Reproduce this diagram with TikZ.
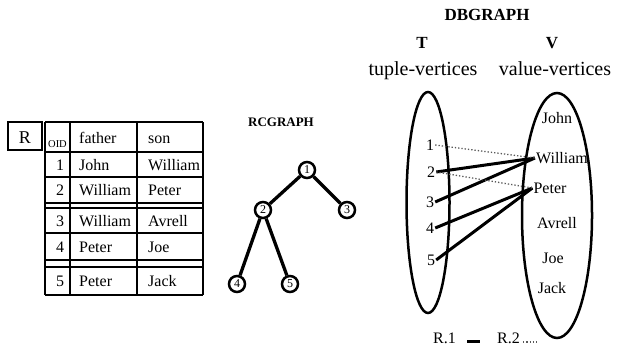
\documentclass[tikz,border=0pt]{standalone}
\usepackage{fontspec}
\setmainfont{Liberation Serif}
\begin{document}
\begin{tikzpicture}[x=1pt,y=-1pt,
  tline/.style={line width=1.8pt},
  txt/.style={inner sep=0pt, anchor=base west, font=\fontsize{16}{16}\selectfont},
  oidnum/.style={inner sep=0pt, anchor=base, font=\fontsize{16}{16}\selectfont},
  title/.style={inner sep=0pt, font=\fontsize{13}{13}\selectfont\bfseries},
  tnode/.style={circle, draw, line width=2.5pt, minimum size=16pt, inner sep=0pt,
                font=\fontsize{12}{12}\selectfont},
  tedge/.style={line width=3.3pt},
  oval/.style={draw, line width=2.5pt},
  tnum/.style={inner sep=1pt, font=\fontsize{16}{16}\selectfont},
  val/.style={inner sep=1pt, font=\fontsize{16}{16}\selectfont},
  rone/.style={line width=3pt},
  rtwo/.style={line width=1.3pt, gray!70!black, dotted}]
\useasboundingbox (0,0) rectangle (617,350);

% ---------- relation R ----------
\draw[tline] (8,122) rectangle (42,150);
\node[inner sep=0pt, anchor=base, font=\fontsize{18}{18}\selectfont] (rname) at (25,143) {R};
% column rules
\foreach \cx in {45,70,137,203} \draw[tline] (\cx,122) -- (\cx,295);
% row rules
\foreach \ry in {122,152,177,203,208,233,260,267,295} \draw[tline] (45,\ry) -- (203,\ry);
% header
\node[inner sep=0pt, anchor=base, font=\fontsize{10.5}{10.5}\selectfont] (hoid) at (57.5,147) {OID};
\node[txt] (hfather) at (79,143) {father};
\node[txt] (hson) at (148,143) {son};
% tuples
\node[oidnum] (o1) at (60,170) {1};
\node[txt] (f1) at (79,170) {John};
\node[txt] (s1) at (148,170) {William};
\node[oidnum] (o2) at (60,195.5) {2};
\node[txt] (f2) at (79,195.5) {William};
\node[txt] (s2) at (148,195.5) {Peter};
\node[oidnum] (o3) at (60,226) {3};
\node[txt] (f3) at (79,226) {William};
\node[txt] (s3) at (148,226) {Avrell};
\node[oidnum] (o4) at (60,252) {4};
\node[txt] (f4) at (79,252) {Peter};
\node[txt] (s4) at (148,252) {Joe};
\node[oidnum] (o5) at (60,286.5) {5};
\node[txt] (f5) at (79,286.5) {Peter};
\node[txt] (s5) at (148,286.5) {Jack};

% ---------- RCGRAPH ----------
\node[title] (rctitle) at (281,122) {RCGRAPH};
\node[tnode] (n1) at (307,170) {1};
\node[tnode] (n2) at (263,210) {2};
\node[tnode] (n3) at (347,210) {3};
\node[tnode] (n4) at (237,284) {4};
\node[tnode] (n5) at (290,284) {5};
\draw[tedge] (n1) -- (n2);
\draw[tedge] (n1) -- (n3);
\draw[tedge] (n2) -- (n4);
\draw[tedge] (n2) -- (n5);

% ---------- DBGRAPH ----------
\node[title, font=\fontsize{17}{17}\selectfont\bfseries] (dbtitle) at (487,15) {DBGRAPH};
\node[title, font=\fontsize{17}{17}\selectfont\bfseries] (tset) at (422,43) {T};
\node[title, font=\fontsize{17}{17}\selectfont\bfseries] (vset) at (552,43) {V};
\node[inner sep=0pt, anchor=base, font=\fontsize{20}{20}\selectfont] (tlab) at (423,76) {tuple-vertices};
\node[inner sep=0pt, anchor=base, font=\fontsize{20}{20}\selectfont] (vlab) at (555,76) {value-vertices};

\draw[oval] (428,202.5) ellipse [x radius=21.5, y radius=110.5];
\draw[oval] (557,215.5) ellipse [x radius=35, y radius=122.5];

\node[tnum] (t1) at (430,145) {1};
\node[tnum] (t2) at (431,172) {2};
\node[tnum] (t3) at (430,202) {3};
\node[tnum] (t4) at (430,228) {4};
\node[tnum] (t5) at (431,260) {5};

\node[val] (vjohn) at (557,118) {John};
\node[val] (vwilliam) at (562,158) {William};
\node[val] (vpeter) at (550,188) {Peter};
\node[val] (vavrell) at (557,223) {Avrell};
\node[val] (vjoe) at (553,258) {Joe};
\node[val] (vjack) at (552,288) {Jack};

% edges of attribute 1 (father)
\draw[rone] (t2.east) -- (vwilliam.west);
\draw[rone] (t3.east) -- (vwilliam.west);
\draw[rone] (t4.east) -- (vpeter.west);
\draw[rone] (t5.east) -- (vpeter.west);
% edges of attribute 2 (son)
\draw[rtwo] (t1.east) -- (vwilliam.west);
\draw[rtwo] (t2.east) -- (vpeter.west);

% legend
\node[inner sep=0pt, anchor=base west, font=\fontsize{16}{16}\selectfont] (lg1) at (433,343) {R.1};
\node[inner sep=0pt, anchor=base west, font=\fontsize{16}{16}\selectfont] (lg2) at (497,343) {R.2};
\coordinate (a1) at (467,341);
\coordinate (b1) at (480,341);
\coordinate (a2) at (523,342);
\coordinate (b2) at (537,342);
\draw[rone] (a1) -- (b1);
\draw[rtwo] (a2) -- (b2);
\end{tikzpicture}
\end{document}
